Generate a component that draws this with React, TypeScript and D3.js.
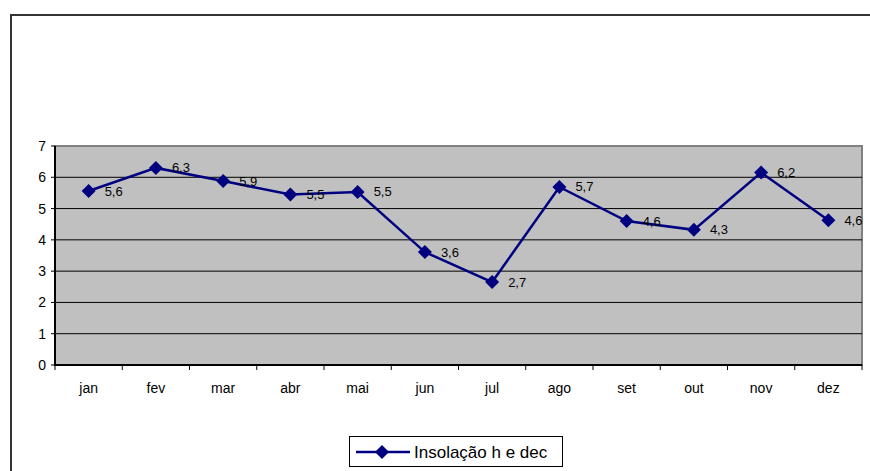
import React from "react";
import * as d3 from "d3";

const months = ["jan", "fev", "mar", "abr", "mai", "jun", "jul", "ago", "set", "out", "nov", "dez"];
const values = [5.56, 6.3, 5.88, 5.45, 5.53, 3.61, 2.65, 5.69, 4.6, 4.32, 6.15, 4.63];
const yTicks = [0, 1, 2, 3, 4, 5, 6, 7];
const seriesName = "Insolação h e dec";

const W = 870;
const H = 471;
const plot = { left: 55, right: 862, top: 146, bottom: 365 };
const navy = "#000080";
const font = "Arial, 'Liberation Sans', sans-serif";

function diamond(cx: number, cy: number, r: number) {
  return `M${cx},${cy - r}L${cx + r},${cy}L${cx},${cy + r}L${cx - r},${cy}Z`;
}

export default function App() {
  const x = d3.scaleBand<string>().domain(months).range([plot.left, plot.right]).padding(0);
  const y = d3.scaleLinear().domain([0, 7]).range([plot.bottom, plot.top]);
  const cx = (m: string) => (x(m) as number) + x.bandwidth() / 2;
  const line = d3
    .line<number>()
    .x((_, i) => cx(months[i]))
    .y((d) => y(d));
  const fmt = (v: number) => (Math.round(v * 10) / 10).toFixed(1).replace(".", ",");
  const boundaries = months.map((m) => x(m) as number).concat([plot.right]);

  return (
    <svg width={W} height={H} style={{ position: "absolute", left: 0, top: 0 }} fontFamily={font}>
      <rect x={0} y={0} width={W} height={H} fill="#fff" />
      <rect x={11} y={15} width={1000} height={600} fill="#fff" stroke="#333" strokeWidth={2} />
      <rect
        x={plot.left}
        y={plot.top}
        width={plot.right - plot.left}
        height={plot.bottom - plot.top}
        fill="#c0c0c0"
        stroke="#808080"
        strokeWidth={2}
      />
      {yTicks.map((t) => (
        <g key={t}>
          {t > 0 && t < 7 && (
            <line x1={plot.left} x2={plot.right} y1={y(t)} y2={y(t)} stroke="#000" strokeWidth={1} />
          )}
          <line x1={plot.left - 4} x2={plot.left} y1={y(t)} y2={y(t)} stroke="#000" strokeWidth={1} />
          <text x={46} y={y(t)} textAnchor="end" dominantBaseline="central" fontSize={14} fill="#000">
            {t}
          </text>
        </g>
      ))}
      <line x1={plot.left} x2={plot.left} y1={plot.top} y2={plot.bottom + 1} stroke="#000" strokeWidth={2} />
      <line x1={plot.left} x2={plot.right} y1={plot.bottom} y2={plot.bottom} stroke="#000" strokeWidth={2} />
      {boundaries.map((b, i) => (
        <line key={i} x1={b} x2={b} y1={plot.bottom} y2={plot.bottom + 5} stroke="#000" strokeWidth={1} />
      ))}
      {months.map((m) => (
        <text key={m} x={cx(m)} y={388} textAnchor="middle" dominantBaseline="central" fontSize={14} fill="#000">
          {m}
        </text>
      ))}
      <path d={line(values) || ""} fill="none" stroke={navy} strokeWidth={2.5} />
      {values.map((v, i) => (
        <g key={i}>
          <path d={diamond(cx(months[i]), y(v), 7)} fill={navy} />
          <text
            x={cx(months[i]) + 16}
            y={y(v)}
            dominantBaseline="central"
            fontSize={13}
            fill="#000"
          >
            {fmt(v)}
          </text>
        </g>
      ))}
      <rect x={349.5} y={436.5} width={213} height={30} fill="#fff" stroke="#000" strokeWidth={1} />
      <line x1={356} x2={410} y1={452} y2={452} stroke={navy} strokeWidth={2.5} />
      <path d={diamond(382, 452, 7)} fill={navy} />
      <text x={414} y={452} dominantBaseline="central" fontSize={17} fill="#000">
        {seriesName}
      </text>
    </svg>
  );
}
